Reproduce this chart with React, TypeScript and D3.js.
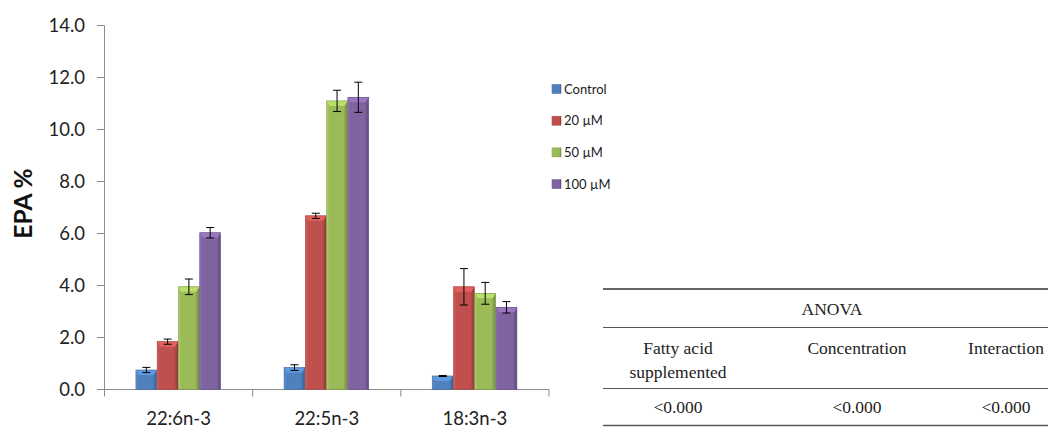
import React from "react";
import * as d3 from "d3";

const categories = ["22:6n-3", "22:5n-3", "18:3n-3"];
const seriesNames = ["Control", " 20 µM", " 50 µM", " 100 µM"];
const seriesColors = ["#4F81BD", "#C0504D", "#9BBB59", "#8064A2"];
const values = [
  [0.75, 0.84, 0.52],
  [1.84, 6.68, 3.95],
  [3.95, 11.1, 3.7],
  [6.03, 11.24, 3.16],
];
const errors = [
  [0.1, 0.11, 0.02],
  [0.1, 0.1, 0.7],
  [0.3, 0.41, 0.42],
  [0.2, 0.58, 0.22],
];
const yTicks = [0, 2, 4, 6, 8, 10, 12, 14];
const anovaHeaders = [["Fatty acid", "supplemented"], ["Concentration"], ["Interaction"]];
const anovaValues = ["<0.000", "<0.000", "<0.000"];

export default function App() {
  const W = 1048, H = 430;
  const y = d3.scaleLinear().domain([0, 14]).range([389.5, 25.5]);
  const x0 = d3.scaleBand().domain(categories).range([104.5, 549]).paddingInner(0).paddingOuter(0);
  const x1 = d3.scaleBand().domain(seriesNames).range([31, 116.5]).padding(0.02);
  const font = "Lato, 'Open Sans', sans-serif";
  const serif = "'Liberation Serif', 'DejaVu Serif', serif";
  const axisColor = "#8c8c8c";

  const tableX = [603, 1048];
  const colCenters = [678, 857, 1006];

  return (
    <svg width={W} height={H} style={{ position: "absolute", left: 0, top: 0, background: "#fff" }}>
      <defs>
        {seriesColors.map((c, i) => {
          const col = d3.color(c)!;
          const dark = d3.color(c)!.darker(0.9).formatHex();
          const light = d3.color(c)!.brighter(0.35).formatHex();
          return (
            <linearGradient key={i} id={`g${i}`} x1="0" x2="1" y1="0" y2="0">
              <stop offset="0%" stopColor={light} />
              <stop offset="12%" stopColor={col.formatHex()} />
              <stop offset="80%" stopColor={col.formatHex()} />
              <stop offset="100%" stopColor={dark} />
            </linearGradient>
          );
        })}
      </defs>

      {/* y axis */}
      <line x1={104.5} x2={104.5} y1={y(14)} y2={y(0)} stroke={axisColor} strokeWidth={1} />
      {yTicks.map((t) => (
        <g key={t}>
          <line x1={97} x2={104.5} y1={y(t)} y2={y(t)} stroke={axisColor} strokeWidth={1} />
          <text x={85} y={y(t)} dy="0.35em" textAnchor="end" fontFamily={font} fontSize={18.5} fill="#222">
            {t.toFixed(1)}
          </text>
        </g>
      ))}
      <text
        transform={`translate(32,${203.5}) rotate(-90)`}
        textAnchor="middle"
        fontFamily={font}
        fontWeight="bold"
        fontSize={24.5}
        fill="#111"
      >
        EPA %
      </text>

      {/* x axis */}
      <line x1={104.5} x2={549} y1={y(0)} y2={y(0)} stroke={axisColor} strokeWidth={1} />
      {[...categories.map((c) => x0(c)!), 549].map((v, i) => (
        <line key={i} x1={v} x2={v} y1={y(0)} y2={y(0) + 7} stroke={axisColor} strokeWidth={1} />
      ))}
      {categories.map((c) => (
        <text key={c} x={x0(c)! + x0.bandwidth() / 2} y={425} textAnchor="middle" fontFamily={font} fontSize={18.5} fill="#222">
          {c}
        </text>
      ))}

      {/* bars */}
      {seriesNames.map((s, si) =>
        categories.map((c, ci) => {
          const v = values[si][ci];
          const e = errors[si][ci];
          const bx = x0(c)! + x1(s)!;
          const bw = x1.bandwidth();
          const top = y(v);
          const bot = y(0);
          const cx = bx + bw / 2;
          const cap = Math.min(5, (bot - top) / 2);
          return (
            <g key={`${si}-${ci}`}>
              <rect x={bx} y={top} width={bw} height={bot - top} fill={`url(#g${si})`} />
              <polygon
                points={`${bx},${top} ${bx + bw},${top} ${bx + bw - 3},${top + cap} ${bx + 3},${top + cap}`}
                fill={d3.color(seriesColors[si])!.brighter(0.5).formatHex()}
              />
              <rect x={bx} y={top} width={bw} height={bot - top} fill="none" stroke={d3.color(seriesColors[si])!.darker(0.6).formatHex()} strokeWidth={0.6} />
              <line x1={cx} x2={cx} y1={y(v + e)} y2={y(v - e)} stroke="#000" strokeWidth={1} />
              <line x1={cx - 4} x2={cx + 4} y1={y(v + e)} y2={y(v + e)} stroke="#000" strokeWidth={1} />
              <line x1={cx - 4} x2={cx + 4} y1={y(v - e)} y2={y(v - e)} stroke="#000" strokeWidth={1} />
            </g>
          );
        })
      )}

      {/* legend */}
      {seriesNames.map((s, i) => {
        const ly = 89 + i * 31.7;
        return (
          <g key={s}>
            <rect x={552} y={ly - 4.5} width={9} height={9} fill={`url(#g${i})`} stroke={d3.color(seriesColors[i])!.darker(0.6).formatHex()} strokeWidth={0.5} />
            <text x={564} y={ly} dy="0.35em" fontFamily={font} fontSize={13} fill="#222">
              {s}
            </text>
          </g>
        );
      })}

      {/* ANOVA table */}
      <line x1={tableX[0]} x2={tableX[1]} y1={289} y2={289} stroke="#333" strokeWidth={1.3} />
      <line x1={tableX[0]} x2={tableX[1]} y1={327.5} y2={327.5} stroke="#555" strokeWidth={1} />
      <line x1={tableX[0]} x2={tableX[1]} y1={388.5} y2={388.5} stroke="#555" strokeWidth={1} />
      <line x1={tableX[0]} x2={tableX[1]} y1={425.5} y2={425.5} stroke="#555" strokeWidth={1.3} />
      <text x={832} y={309} dy="0.35em" textAnchor="middle" fontFamily={serif} fontSize={17.5} fill="#222">
        ANOVA
      </text>
      {anovaHeaders.map((lines, i) =>
        lines.map((l, j) => (
          <text key={`${i}-${j}`} x={colCenters[i]} y={348 + j * 24} dy="0.35em" textAnchor="middle" fontFamily={serif} fontSize={17.5} fill="#222">
            {l}
          </text>
        ))
      )}
      {anovaValues.map((v, i) => (
        <text key={i} x={colCenters[i]} y={407} dy="0.35em" textAnchor="middle" fontFamily={serif} fontSize={17.5} fill="#222">
          {v}
        </text>
      ))}
    </svg>
  );
}
